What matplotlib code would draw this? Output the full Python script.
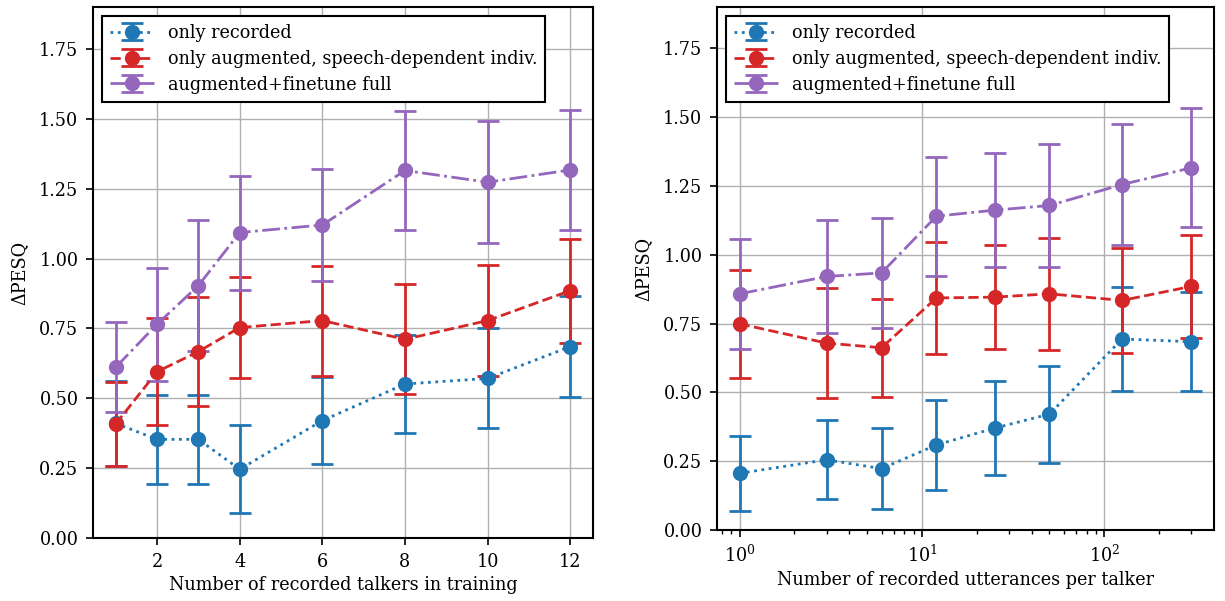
import matplotlib
matplotlib.use("Agg")
import matplotlib.pyplot as plt
import numpy as np

plt.rcParams['font.family'] = ['DejaVu Serif']
plt.rcParams['font.size'] = 12.7

labels = ["only recorded", "only augmented, speech-dependent indiv.", "augmented+finetune full"]
colors = ["#1f77b4", "#d62728", "#9467bd"]
styles = [":", "--", "-."]

# Left: number of recorded talkers
talkers = [1, 2, 3, 4, 6, 8, 10, 12]
rec_t = [0.41, 0.353, 0.353, 0.246, 0.42, 0.551, 0.571, 0.685]
rec_t_err = [0.152, 0.16, 0.158, 0.158, 0.155, 0.177, 0.179, 0.18]
aug_t = [0.408, 0.595, 0.667, 0.753, 0.778, 0.711, 0.778, 0.885]
aug_t_err = [0.151, 0.192, 0.196, 0.181, 0.197, 0.197, 0.2, 0.186]
ft_t = [0.611, 0.765, 0.903, 1.093, 1.12, 1.315, 1.273, 1.317]
ft_t_err = [0.161, 0.202, 0.234, 0.204, 0.2, 0.214, 0.219, 0.215]

# Right: number of recorded utterances per talker
utts = [1, 3, 6, 12, 25, 50, 125, 300]
rec_u = [0.206, 0.255, 0.223, 0.309, 0.370, 0.421, 0.694, 0.684]
rec_u_err = [0.136, 0.144, 0.146, 0.162, 0.172, 0.176, 0.19, 0.18]
aug_u = [0.749, 0.679, 0.662, 0.843, 0.846, 0.858, 0.834, 0.885]
aug_u_err = [0.196, 0.199, 0.178, 0.202, 0.189, 0.204, 0.19, 0.186]
ft_u = [0.858, 0.921, 0.934, 1.140, 1.162, 1.179, 1.255, 1.316]
ft_u_err = [0.199, 0.204, 0.2, 0.216, 0.207, 0.225, 0.221, 0.216]

W, H = 1225, 601
fig = plt.figure(figsize=(W / 100, H / 100), dpi=100)
ax1 = fig.add_axes([93 / W, 1 - 538 / H, 500 / W, 531 / H])
ax2 = fig.add_axes([717 / W, 1 - 530 / H, 497 / W, 523 / H])

def draw(ax, x, series):
    for (y, e), lab, c, ls in zip(series, labels, colors, styles):
        ax.errorbar(x, y, yerr=e, color=c, ls=ls, lw=2, marker='o', ms=10,
                    capsize=8, capthick=2, elinewidth=2, label=lab)
    ax.grid(True, color='#b0b0b0', lw=1)
    ax.set_axisbelow(True)
    ax.set_ylim(0, 1.9)
    ax.set_yticks(np.arange(0, 1.76, 0.25))
    ax.set_ylabel("ΔPESQ", labelpad=8)
    for s in ax.spines.values():
        s.set_linewidth(1.5)
    ax.tick_params(which='major', width=1.2, length=5, pad=5.5)
    ax.tick_params(which='minor', width=1.0, length=3)
    leg = ax.legend(loc='upper left', fancybox=False, framealpha=1,
                    edgecolor='black', borderaxespad=0.5, borderpad=0.45,
                    labelspacing=0.45, handlelength=2.5)
    leg.get_frame().set_linewidth(1.5)

draw(ax1, talkers, [(rec_t, rec_t_err), (aug_t, aug_t_err), (ft_t, ft_t_err)])
ax1.set_xticks([2, 4, 6, 8, 10, 12])
ax1.set_xlabel("Number of recorded talkers in training")

draw(ax2, utts, [(rec_u, rec_u_err), (aug_u, aug_u_err), (ft_u, ft_u_err)])
ax2.set_xscale('log')
ax2.set_xlabel("Number of recorded utterances per talker")

fig.savefig("out.png", dpi=100)
